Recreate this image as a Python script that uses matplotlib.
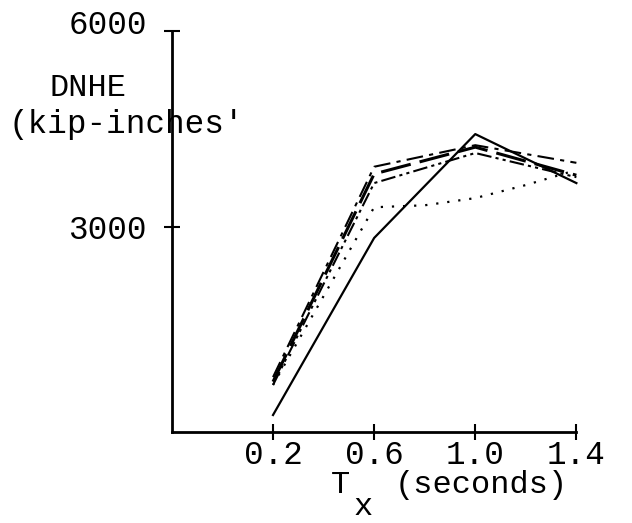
import matplotlib
matplotlib.use("Agg")
import matplotlib.pyplot as plt
from matplotlib.transforms import ScaledTranslation

plt.rcParams['font.family'] = ['Liberation Mono', 'DejaVu Sans Mono']

periods = [0.2, 0.6, 1.0, 1.4]
solid = [120, 2830, 4420, 3670]
dash_dot = [700, 3920, 4250, 3980]
long_dash = [630, 3810, 4220, 3790]
dash_dot_dot = [580, 3670, 4130, 3760]
dotted_t = [0.2, 0.6, 0.8, 1.0, 1.2, 1.4]
dotted = [580, 3300, 3330, 3440, 3640, 3870]

x_ticks = [0.2, 0.6, 1.0, 1.4]
x_labels = ['0.2', '0.6', '1.0', '1.4']
y_ticks = [3000, 6000]
y_labels = ['3000', '6000']

fig = plt.figure(figsize=(6.32, 5.23), dpi=100)
ax = fig.add_axes([0.272, 0.174, 0.646, 0.767])

ax.plot(periods, solid, color='black', lw=1.6, ls='-')
ax.plot(periods, dash_dot, color='black', lw=1.5, ls=(0, (8, 3, 2, 3)))
ax.plot(periods, long_dash, color='black', lw=2.2, ls=(0, (10, 3)))
ax.plot(periods, dash_dot_dot, color='black', lw=1.5, ls=(0, (7, 2, 1.5, 2, 1.5, 2)))
ax.plot(dotted_t, dotted, color='black', lw=1.6, ls=(0, (1, 4)))

ax.set_xlim(-0.2, 1.415)
ax.set_ylim(-140, 6000)
for s in ['top', 'right']:
    ax.spines[s].set_visible(False)
for s in ['left', 'bottom']:
    ax.spines[s].set_linewidth(2)
ax.spines['bottom'].set_bounds(-0.2, 1.4)

ax.set_xticks(x_ticks)
ax.set_xticklabels(x_labels)
ax.set_yticks(y_ticks)
ax.set_yticklabels(y_labels)
ax.tick_params(direction='inout', length=12, width=1.5, labelsize=23.5)
ax.tick_params(axis='x', pad=0)
ax.tick_params(axis='y', pad=12)

# the 6000 label sits a little above its tick in the original
top_lbl = ax.get_yticklabels()[1]
top_lbl.set_transform(top_lbl.get_transform() + ScaledTranslation(0, 9 / 100, fig.dpi_scale_trans))

fig.text(0.139, 0.832, 'DNHE', fontsize=23, ha='center', va='center')
fig.text(0.013, 0.761, "(kip-inches'", fontsize=23.5, ha='left', va='center')
fig.text(0.538, 0.073, 'T', fontsize=23, ha='center', va='center')
fig.text(0.575, 0.031, 'x', fontsize=23, ha='center', va='center')
fig.text(0.762, 0.073, '(seconds)', fontsize=23, ha='center', va='center')

fig.savefig('out.png', dpi=100)
